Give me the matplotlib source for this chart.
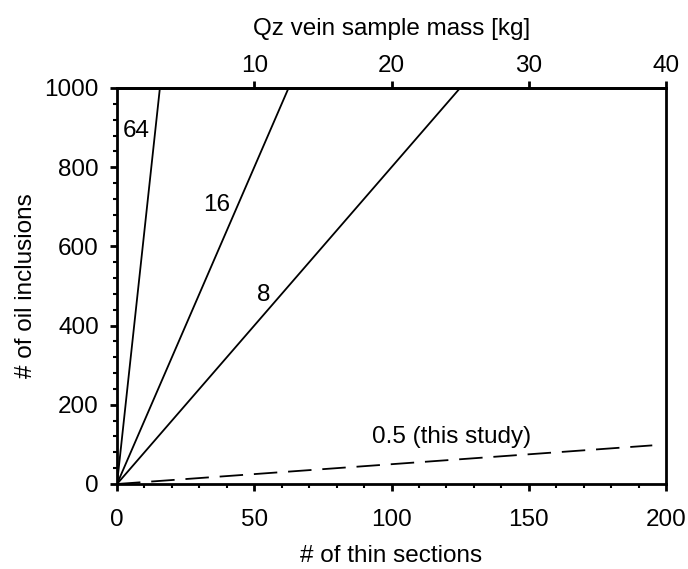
import matplotlib.pyplot as plt
import numpy as np
from matplotlib.ticker import MultipleLocator

plt.rcParams['font.family'] = ['Liberation Sans', 'DejaVu Sans']

# Oil inclusions per thin section for each scenario
rates = [64, 16, 8]
rate_labels = ['64', '16', '8']
study_rate = 0.5
study_label = '0.5 (this study)'
study_x_end = 195

# label positions (data coords, left edge / vertical centre)
label_x = [2.2, 31.3, 51]
label_y = [891, 705, 477]
study_label_xy = (92.9, 119)

kg_per_section = 0.2

FS = 17.5

fig = plt.figure(figsize=(6.88, 5.69), dpi=100)
ax = fig.add_axes([117 / 688, 1 - 484 / 569, 549 / 688, 396 / 569])

for r, lab, lx, ly in zip(rates, rate_labels, label_x, label_y):
    xe = 1000.0 / r
    ax.plot([0, xe], [0, r * xe], color='black', lw=1.3)
    ax.text(lx, ly, lab, fontsize=FS, ha='left', va='center')

ax.plot([0, study_x_end], [0, study_rate * study_x_end], color='black', lw=1.3,
        dashes=(13, 6))
ax.text(study_label_xy[0], study_label_xy[1], study_label, fontsize=FS,
        ha='left', va='center')

ax.set_xlim(0, 200)
ax.set_ylim(0, 1000)
ax.xaxis.set_major_locator(MultipleLocator(50))
ax.xaxis.set_minor_locator(MultipleLocator(10))
ax.yaxis.set_major_locator(MultipleLocator(200))
ax.yaxis.set_minor_locator(MultipleLocator(40))
ax.tick_params(which='major', direction='out', length=5, width=2, labelsize=FS)
ax.tick_params(axis='x', which='major', pad=13)
ax.tick_params(axis='y', which='major', pad=8)
ax.tick_params(which='minor', direction='out', length=3, width=1.5)
for s in ax.spines.values():
    s.set_linewidth(2)

ax.set_xlabel('# of thin sections', fontsize=FS, labelpad=10)
ax.set_ylabel('# of oil inclusions', fontsize=FS, labelpad=5.5)

top = ax.secondary_xaxis('top', functions=(lambda x: x * kg_per_section,
                                           lambda m: m / kg_per_section))
top.set_xticks([10, 20, 30, 40])
top.tick_params(which='major', direction='out', length=5, width=2, labelsize=FS, pad=3)
top.tick_params(which='minor', length=0)
top.spines['top'].set_linewidth(2)
top.set_xlabel('Qz vein sample mass [kg]', fontsize=FS, labelpad=14)

fig.savefig('out.png', dpi=100)
